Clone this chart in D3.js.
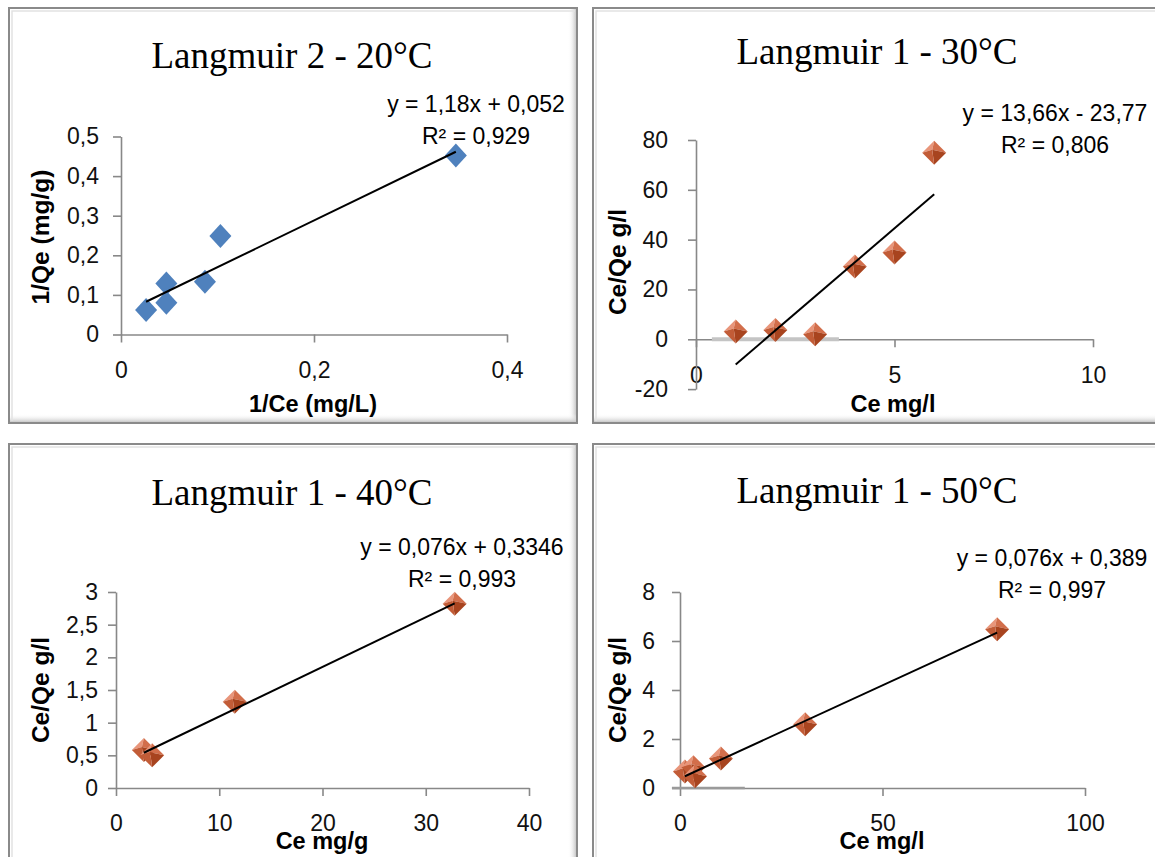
<!DOCTYPE html>
<html><head><meta charset="utf-8">
<script src="https://cdn.jsdelivr.net/npm/d3@7"></script>
<style>body{margin:0;background:#fff} svg{display:block}</style>
</head><body>
<svg id="c" width="1155" height="857"></svg>
<script>
// ---------- DATA ----------
const titles = ["Langmuir 2 - 20°C", "Langmuir 1 - 30°C", "Langmuir 1 - 40°C", "Langmuir 1 - 50°C"];
const xTitles = ["1/Ce (mg/L)", "Ce mg/l", "Ce mg/g", "Ce mg/l"];
const yTitles = ["1/Qe (mg/g)", "Ce/Qe g/l", "Ce/Qe g/l", "Ce/Qe g/l"];
const eqLabels = ["y = 1,18x + 0,052", "y = 13,66x - 23,77", "y = 0,076x + 0,3346", "y = 0,076x + 0,389"];
const r2Labels = ["R² = 0,929", "R² = 0,806", "R² = 0,993", "R² = 0,997"];
const slopes = [1.18, 13.66, 0.076, 0.076];
const intercepts = [0.052, -23.77, 0.3346, 0.389];

const x20 = [0.026, 0.047, 0.047, 0.087, 0.103, 0.347];
const y20 = [0.062, 0.129, 0.080, 0.133, 0.249, 0.452];
const x30 = [1, 2, 3, 4, 5, 6];
const y30 = [3.1, 3.7, 2.0, 29.2, 34.8, 74.9];
const x40 = [2.7, 3.5, 11.5, 32.8];
const y40 = [0.58, 0.50, 1.32, 2.82];
const x50 = [1.2, 3.3, 3.7, 10.1, 30.9, 78.3];
const y50 = [0.67, 0.85, 0.48, 1.2, 2.6, 6.48];

const xTicks20 = [0, 0.2, 0.4];
const yTicks20 = [0, 0.1, 0.2, 0.3, 0.4, 0.5];
const xTicks30 = [0, 5, 10];
const yTicks30 = [-20, 0, 20, 40, 60, 80];
const xTicks40 = [0, 10, 20, 30, 40];
const yTicks40 = [0, 0.5, 1, 1.5, 2, 2.5, 3];
const xTicks50 = [0, 50, 100];
const yTicks50 = [0, 2, 4, 6, 8];

// ---------- LAYOUT ----------
const panels = [
  {xs: x20, ys: y20, xt: xTicks20, yt: yTicks20, xd: [0, 0.4], yd: [0, 0.5],
   frame: [9, 8, 568, 415], xr: [121, 507], yr: [334.5, 136.5], ypad: 14,
   titlePos: [292, 68], eqPos: [476, 112], xtPos: [313, 412], ytPos: [40, 237], marker: "blue", band: null},
  {xs: x30, ys: y30, xt: xTicks30, yt: yTicks30, xd: [0, 10], yd: [-20, 80],
   frame: [593, 8, 580, 415], xr: [696, 1093], yr: [389.1, 140], ypad: 20,
   titlePos: [877, 64], eqPos: [1055, 121], xtPos: [893, 412], ytPos: [617, 262], marker: "orange",
   band: {x0: 0.4, x1: 3.6, color: "#c4c4c4", w: 4}},
  {xs: x40, ys: y40, xt: xTicks40, yt: yTicks40, xd: [0, 40], yd: [0, 3],
   frame: [9, 444, 568, 430], xr: [116, 529], yr: [788, 592], ypad: 10,
   titlePos: [292, 505], eqPos: [462, 555], xtPos: [322, 849], ytPos: [40, 690], marker: "orange", band: null},
  {xs: x50, ys: y50, xt: xTicks50, yt: yTicks50, xd: [0, 100], yd: [0, 8],
   frame: [593, 444, 580, 430], xr: [680, 1085], yr: [788, 592], ypad: 17,
   titlePos: [877, 503], eqPos: [1052, 566], xtPos: [882, 849], ytPos: [617, 690], marker: "orange",
   band: {x0: -2, x1: 16, color: "#9a9a9a", w: 2.6}}
];

const fmt = d => String(d).replace(".", ",");
const svg = d3.select("#c");
const defs = svg.append("defs");
const gR = defs.append("linearGradient").attr("id", "shR").attr("x1", 0).attr("x2", 1).attr("y1", 0).attr("y2", 0);
gR.append("stop").attr("offset", 0).attr("stop-color", "#fff").attr("stop-opacity", 0);
gR.append("stop").attr("offset", 1).attr("stop-color", "#c8c8c8");
const gB = defs.append("linearGradient").attr("id", "shB").attr("x1", 0).attr("x2", 0).attr("y1", 0).attr("y2", 1);
gB.append("stop").attr("offset", 0).attr("stop-color", "#fff").attr("stop-opacity", 0);
gB.append("stop").attr("offset", 1).attr("stop-color", "#c8c8c8");

const tickFont = "'Liberation Sans Narrow','Arial Narrow','Liberation Sans',sans-serif";

panels.forEach((p, i) => {
  const g = svg.append("g");
  const [fx, fy, fw, fh] = p.frame;
  // frame
  g.append("rect").attr("x", fx).attr("y", fy).attr("width", fw).attr("height", fh)
    .attr("fill", "#fff").attr("stroke", "#8a8a8a").attr("stroke-width", 2);
  g.append("rect").attr("x", fx + fw - 9).attr("y", fy + 1).attr("width", 8).attr("height", fh - 2).attr("fill", "url(#shR)");
  g.append("rect").attr("x", fx + 1).attr("y", fy + fh - 9).attr("width", fw - 2).attr("height", 8).attr("fill", "url(#shB)");
  g.append("path").attr("d", `M${fx + 3},${fy + fh - 2}V${fy + 3}H${fx + fw - 2}`)
    .attr("fill", "none").attr("stroke", "#e2e2e2").attr("stroke-width", 1.5);

  const x = d3.scaleLinear().domain(p.xd).range(p.xr);
  const y = d3.scaleLinear().domain(p.yd).range(p.yr);

  // title
  g.append("text").attr("x", p.titlePos[0]).attr("y", p.titlePos[1]).attr("text-anchor", "middle")
    .style("font-family", "'Liberation Serif','Times New Roman',serif").style("font-size", "37px")
    .attr("fill", "#000").text(titles[i]);

  // axes
  const ax = g.append("g").attr("transform", `translate(0,${y(0)})`)
    .call(d3.axisBottom(x).tickValues(p.xt).tickSize(8).tickSizeOuter(0).tickPadding(19).tickFormat(fmt));
  const ay = g.append("g").attr("transform", `translate(${x(0)},0)`)
    .call(d3.axisLeft(y).tickValues(p.yt).tickSize(8).tickSizeOuter(0).tickPadding(p.ypad).tickFormat(fmt));
  [ax, ay].forEach(a => {
    a.selectAll("path,line").attr("stroke", "#888").attr("stroke-width", 1.6);
    a.selectAll("text").attr("fill", "#111").style("font-family", tickFont).style("font-size", "23px");
  });
  if (p.band) {
    g.append("line").attr("x1", x(p.band.x0)).attr("x2", x(p.band.x1)).attr("y1", y(0)).attr("y2", y(0))
      .attr("stroke", p.band.color).attr("stroke-width", p.band.w);
  }

  // axis titles
  g.append("text").attr("x", p.xtPos[0]).attr("y", p.xtPos[1]).attr("text-anchor", "middle")
    .style("font-family", tickFont).style("font-weight", "bold").style("font-size", "23.5px").text(xTitles[i]);
  g.append("text").attr("transform", `translate(${p.ytPos[0]},${p.ytPos[1]}) rotate(-90)`)
    .attr("text-anchor", "middle").attr("dy", "0.35em")
    .style("font-family", tickFont).style("font-weight", "bold").style("font-size", "24.5px").text(yTitles[i]);

  // markers
  const pts = p.xs.map((v, k) => [v, p.ys[k]]);
  pts.forEach(([vx, vy]) => {
    const m = g.append("g").attr("transform", `translate(${x(vx)},${y(vy)})`);
    if (p.marker === "blue") {
      m.append("path").attr("d", "M0,-12L11,0L0,12L-11,0Z").attr("fill", "#4f81bd");
    } else {
      const ax0 = -2, ay0 = -3;
      m.append("path").attr("d", `M-12,0L0,-12L${ax0},${ay0}Z`).attr("fill", "#e8957a");
      m.append("path").attr("d", `M0,-12L12,0L${ax0},${ay0}Z`).attr("fill", "#d26e4b");
      m.append("path").attr("d", `M12,0L0,12L${ax0},${ay0}Z`).attr("fill", "#a8441f");
      m.append("path").attr("d", `M0,12L-12,0L${ax0},${ay0}Z`).attr("fill", "#c25c37");
    }
  });

  // trend line
  const xmin = d3.min(p.xs), xmax = d3.max(p.xs);
  g.append("line")
    .attr("x1", x(xmin)).attr("y1", y(slopes[i] * xmin + intercepts[i]))
    .attr("x2", x(xmax)).attr("y2", y(slopes[i] * xmax + intercepts[i]))
    .attr("stroke", "#000").attr("stroke-width", 2);

  // equation labels
  g.append("text").attr("x", p.eqPos[0]).attr("y", p.eqPos[1]).attr("text-anchor", "middle")
    .style("font-family", tickFont).style("font-size", "23px").text(eqLabels[i]);
  g.append("text").attr("x", p.eqPos[0]).attr("y", p.eqPos[1] + 32).attr("text-anchor", "middle")
    .style("font-family", tickFont).style("font-size", "23px").text(r2Labels[i]);
});
</script>
</body></html>
